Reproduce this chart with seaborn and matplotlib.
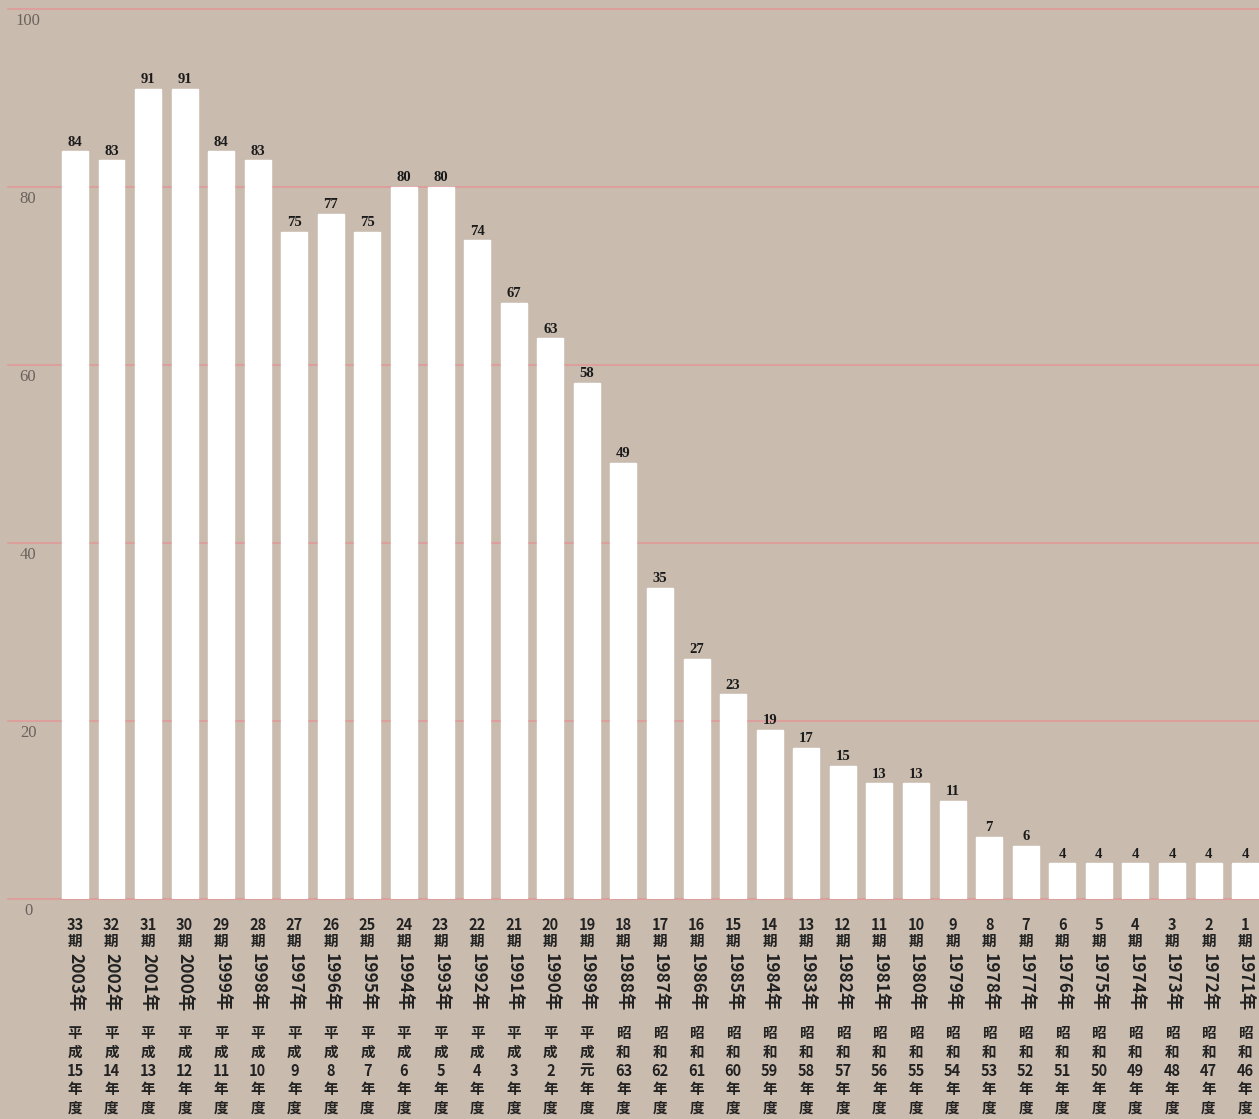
import pandas as pd
import numpy as np
import matplotlib
matplotlib.use('Agg')
import matplotlib.pyplot as plt
import seaborn as sns

# Data (left to right: period 33 down to 1)
periods = list(range(33, 0, -1))
values = [84, 83, 91, 91, 84, 83, 75, 77, 75, 80, 80, 74, 67, 63, 58, 49, 35,
          27, 23, 19, 17, 15, 13, 13, 11, 7, 6, 4, 4, 4, 4, 4, 4]
years = [str(1970 + p) for p in periods]
eras = ['平成'] * 15 + ['昭和'] * 18
era_years = ['15', '14', '13', '12', '11', '10', '9', '8', '7', '6', '5', '4', '3', '2', '元',
             '63', '62', '61', '60', '59', '58', '57', '56', '55', '54', '53', '52', '51',
             '50', '49', '48', '47', '46']
yticks = [0, 20, 40, 60, 80, 100]

df = pd.DataFrame({'period': [f'{p}期' for p in periods], 'value': values})

bg = '#c9bcaf'
sns.set_theme(style='white')
plt.rcParams['font.family'] = ['Noto Sans CJK JP', 'DejaVu Sans']

fig = plt.figure(figsize=(12.59, 11.19), dpi=100, facecolor=bg)
ax = fig.add_axes([8 / 1259, 220 / 1119, 1 - 8 / 1259, 890 / 1119])
ax.set_facecolor(bg)

sns.barplot(data=df, x='period', y='value', color='white', saturation=1,
            width=0.71, errorbar=None, ax=ax, zorder=3)

ax.set_ylim(0, 100)
ax.set_xlim(-1.83, 32.38)
for s in ax.spines.values():
    s.set_visible(False)
ax.set_xticks([])
ax.set_yticks([])
ax.set_xlabel('')
ax.set_ylabel('')

# gridlines and y labels
for t in yticks:
    ax.axhline(t, color='#dc9f9c', lw=1.5, zorder=1, clip_on=False)
    ax.annotate(str(t), xy=(0.016, t), xycoords=('axes fraction', 'data'),
                xytext=(0, -3), textcoords='offset points', ha='center', va='top',
                fontsize=12, color='#6a625b', family='Liberation Serif')

# value labels
for i, v in enumerate(values):
    ax.annotate(str(v), xy=(i, v), xycoords='data', xytext=(0, 2),
                textcoords='offset points', ha='center', va='bottom',
                fontsize=10.5, fontweight='bold', color='#1a1a1a',
                family='Liberation Serif')

# vertical category labels
for i in range(len(periods)):
    ax.annotate(f'{periods[i]}\n期', xy=(i, 0), xycoords=('data', 'axes fraction'),
                xytext=(0, -13), textcoords='offset points', ha='center', va='top',
                fontsize=10.5, fontweight='bold', color='#222222', linespacing=1.0)
    ax.annotate(f'{years[i]}年', xy=(i, 0), xycoords=('data', 'axes fraction'),
                xytext=(0, -39), textcoords='offset points', ha='center', va='top',
                rotation=-90, fontsize=12.5, fontweight='bold', color='#222222')
    era = eras[i]
    ax.annotate(f'{era[0]}\n{era[1]}\n{era_years[i]}\n年\n度', xy=(i, 0),
                xycoords=('data', 'axes fraction'),
                xytext=(0, -91), textcoords='offset points', ha='center', va='top',
                fontsize=10.5, fontweight='bold', color='#222222', linespacing=1.2)

plt.savefig('out.png', dpi=100, facecolor=bg)
